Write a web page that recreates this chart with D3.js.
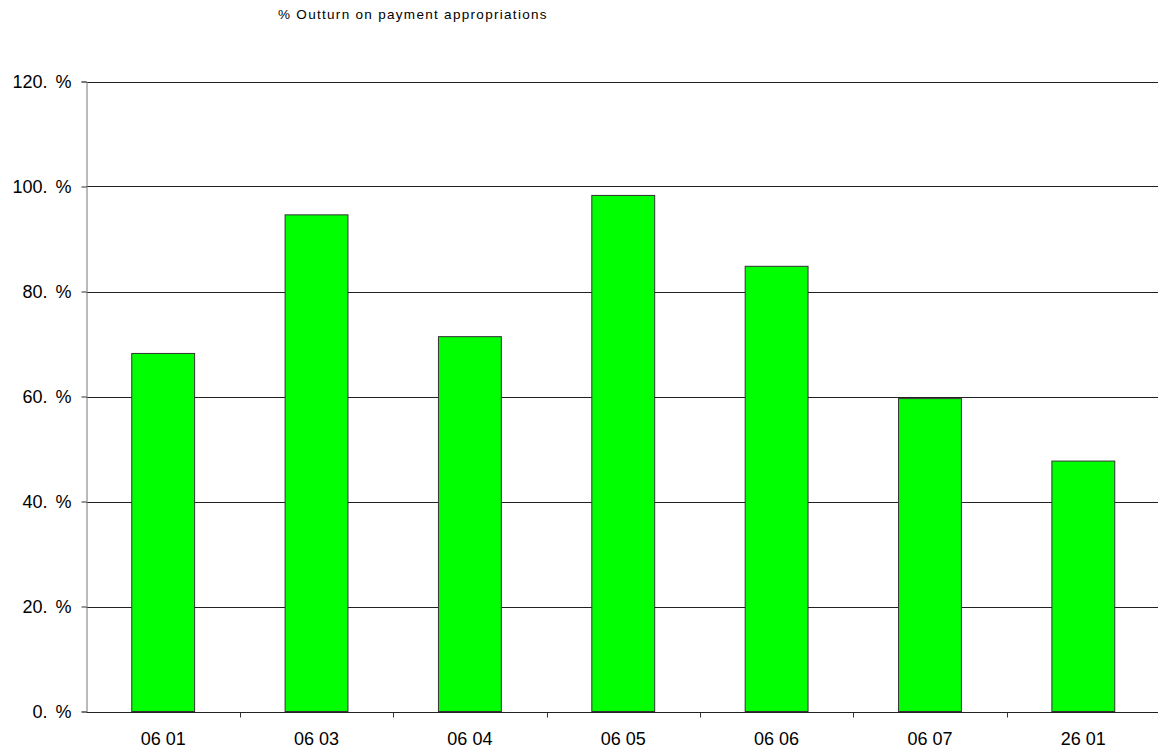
<!DOCTYPE html>
<html>
<head>
<meta charset="utf-8">
<script src="https://cdn.jsdelivr.net/npm/d3@7"></script>
<style>
  html, body { margin: 0; padding: 0; background: #fff; }
  svg { display: block; font-family: "Liberation Sans", Arial, sans-serif; }
</style>
</head>
<body>
<svg id="chart" width="1158" height="749"></svg>
<script>
// Budget lines and their outturn rate on payment appropriations (%)
const categories = ["06 01", "06 03", "06 04", "06 05", "06 06", "06 07", "26 01"];
const outturn = [68.2, 94.6, 71.4, 98.3, 84.8, 59.6, 47.7];
const yTicks = [0, 20, 40, 60, 80, 100, 120];
const title = "% Outturn on payment appropriations";

const svg = d3.select("#chart");
const margin = { left: 86.5, top: 81.5, right: -2, bottom: 37.5 };
const W = 1158, H = 749;

const x = d3.scaleBand()
  .domain(categories)
  .range([margin.left, W - margin.right])
  .paddingInner(0.59)
  .paddingOuter(0.295);

const y = d3.scaleLinear()
  .domain([0, 120])
  .range([H - margin.bottom, margin.top]);

// Horizontal gridlines
svg.append("g")
  .selectAll("line")
  .data(yTicks.filter(d => d > 0))
  .join("line")
  .attr("x1", margin.left)
  .attr("x2", W)
  .attr("y1", d => Math.round(y(d)) + 0.5)
  .attr("y2", d => Math.round(y(d)) + 0.5)
  .attr("stroke", "#222")
  .attr("stroke-width", 1);

// Bars
svg.append("g")
  .selectAll("rect")
  .data(categories.map((c, i) => ({ c, v: outturn[i] })))
  .join("rect")
  .attr("x", d => x(d.c))
  .attr("y", d => y(d.v))
  .attr("width", x.bandwidth())
  .attr("height", d => y(0) - y(d.v))
  .attr("fill", "#00ff00")
  .attr("stroke", "#333")
  .attr("stroke-width", 1);

// Y axis
const yAxis = svg.append("g")
  .attr("transform", `translate(${margin.left},0)`)
  .call(d3.axisLeft(y).tickValues(yTicks).tickSize(5).tickPadding(10)
    .tickFormat(d => d + ". %"));
yAxis.select(".domain").attr("stroke", "#777");
yAxis.selectAll(".tick line").attr("stroke", "#333");
yAxis.selectAll("text")
  .attr("font-size", 18)
  .attr("word-spacing", 3)
  .attr("fill", "#000")
  .attr("font-family", "Liberation Sans, Arial, sans-serif");

// X axis with ticks between categories
const xStep = x.step();
const xAxisY = Math.round(y(0)) + 0.5;
const xg = svg.append("g");
xg.append("line")
  .attr("x1", margin.left).attr("x2", W)
  .attr("y1", xAxisY).attr("y2", xAxisY)
  .attr("stroke", "#222");
xg.selectAll("line.sep")
  .data(categories.slice(1))
  .join("line")
  .attr("class", "sep")
  .attr("x1", d => Math.round(x(d) + x.bandwidth() / 2 - xStep / 2) + 0.5)
  .attr("x2", d => Math.round(x(d) + x.bandwidth() / 2 - xStep / 2) + 0.5)
  .attr("y1", xAxisY).attr("y2", xAxisY + 5)
  .attr("stroke", "#333");
xg.selectAll("text")
  .data(categories)
  .join("text")
  .attr("x", d => x(d) + x.bandwidth() / 2)
  .attr("y", xAxisY + 32)
  .attr("text-anchor", "middle")
  .attr("font-size", 18)
  .attr("fill", "#000")
  .text(d => d);

// Title
svg.append("text")
  .attr("x", 278)
  .attr("y", 19)
  .attr("font-size", 13.5)
  .attr("letter-spacing", 1.3)
  .attr("fill", "#000")
  .text(title);
</script>
</body>
</html>
